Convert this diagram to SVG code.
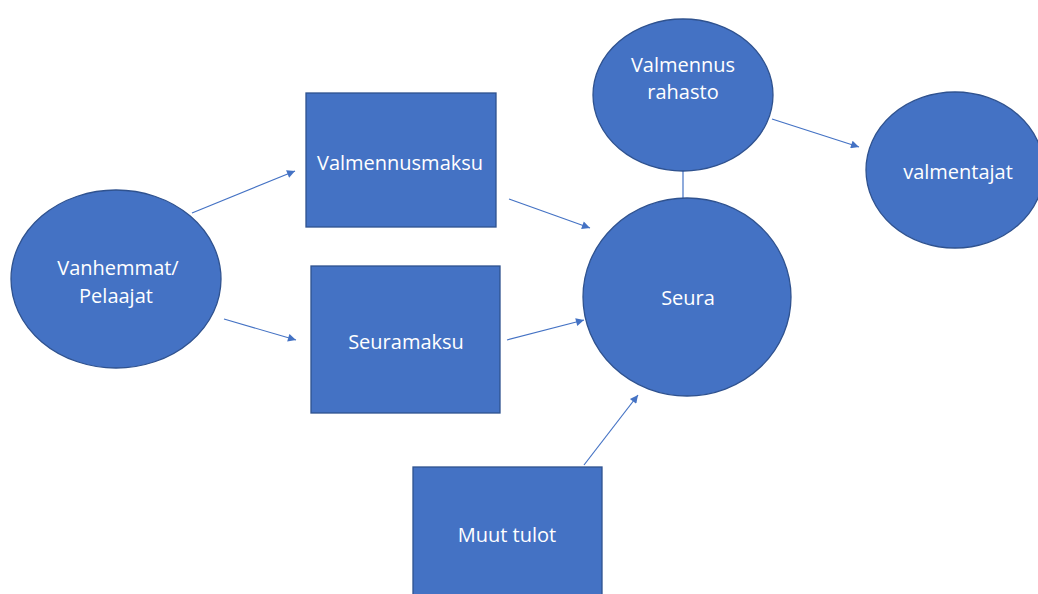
<svg xmlns="http://www.w3.org/2000/svg" width="1038" height="594" viewBox="0 0 1038 594">
<style>
.n{fill:#4472C4;stroke:#2F528F;stroke-width:1.3}
.t{fill:#fff;font-family:"Open Sans","Noto Sans",sans-serif;font-size:20px;text-anchor:middle;dominant-baseline:central}
.c{stroke:#4472C4;stroke-width:1.2;fill:none}
</style>
<defs>
<marker id="a" viewBox="0 0 10 10" refX="10" refY="5" markerWidth="10" markerHeight="8" markerUnits="userSpaceOnUse" orient="auto">
<path d="M0,0 L10,5 L0,10 z" fill="#4472C4"/>
</marker>
</defs>
<rect width="1038" height="594" fill="#fff"/>
<g id="connectors">
<line class="c" x1="192" y1="213" x2="295" y2="171" marker-end="url(#a)"/>
<line class="c" x1="224" y1="319" x2="296" y2="340" marker-end="url(#a)"/>
<line class="c" x1="509" y1="199" x2="590" y2="228" marker-end="url(#a)"/>
<line class="c" x1="507" y1="340" x2="584" y2="320" marker-end="url(#a)"/>
<line class="c" x1="584" y1="465" x2="638" y2="395" marker-end="url(#a)"/>
<line class="c" x1="772" y1="119" x2="859" y2="147" marker-end="url(#a)"/>
<line class="c" x1="683" y1="171" x2="683" y2="198"/>
</g>
<g id="vanhemmat">
<ellipse class="n" cx="116" cy="279" rx="105" ry="89"/>
<text class="t" x="118" y="267">Vanhemmat/</text>
<text class="t" x="116" y="295">Pelaajat</text>
</g>
<g id="valmennusmaksu">
<rect class="n" x="306" y="93" width="190" height="134"/>
<text class="t" x="400" y="162">Valmennusmaksu</text>
</g>
<g id="seuramaksu">
<rect class="n" x="311" y="266" width="189" height="147"/>
<text class="t" x="406" y="341">Seuramaksu</text>
</g>
<g id="muut">
<rect class="n" x="413" y="467" width="189" height="140"/>
<text class="t" x="507" y="534">Muut tulot</text>
</g>
<g id="seura">
<ellipse class="n" cx="687" cy="297" rx="104" ry="99"/>
<text class="t" x="688" y="297">Seura</text>
</g>
<g id="rahasto">
<ellipse class="n" cx="683" cy="95" rx="90" ry="76"/>
<text class="t" x="683" y="64">Valmennus</text>
<text class="t" x="683" y="91">rahasto</text>
</g>
<g id="valmentajat">
<ellipse class="n" cx="955" cy="170" rx="89" ry="78"/>
<text class="t" x="958" y="171">valmentajat</text>
</g>
</svg>
